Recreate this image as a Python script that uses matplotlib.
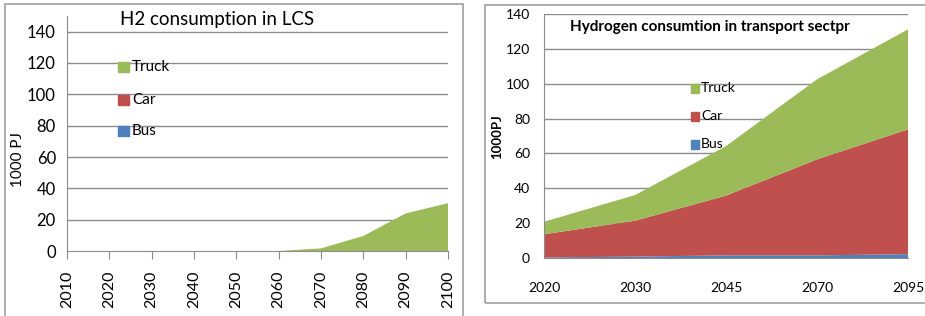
import matplotlib
matplotlib.use("Agg")
import matplotlib.pyplot as plt
from matplotlib.patches import Rectangle

plt.rcParams['font.family'] = ['Lato', 'DejaVu Sans']

# Left chart data
years_lcs = [2010, 2020, 2030, 2040, 2050, 2060, 2070, 2080, 2090, 2100]
bus_lcs = [0, 0, 0, 0, 0, 0, 0, 0, 0, 0]
car_lcs = [0, 0, 0, 0, 0, 0, 0, 0, 0, 0]
truck_lcs = [0, 0, 0, 0, 0, 0, 1.7, 9.6, 24, 30.5]

# Right chart data
years_tr = ["2020", "2030", "2045", "2070", "2095"]
bus_tr = [0.3, 0.8, 1.5, 1.5, 2.2]
car_tr = [13.3, 20.6, 34.3, 55.1, 71.6]
truck_tr = [7.2, 14.7, 28.4, 45.9, 57.4]

GREEN = "#9BBB59"
RED = "#C0504D"
BLUE = "#4F81BD"
GRID = "#8C8C8C"

W, H = 925, 316
fig = plt.figure(figsize=(W / 100, H / 100), dpi=100)

def fx(x):
    return x / W

def fy(y):
    return 1 - y / H

# Frames
fig.patches.append(Rectangle((fx(5), fy(318)), fx(458), (318 - 4) / H,
                             transform=fig.transFigure, fill=False,
                             edgecolor="#A0A0A0", lw=1.2))
fig.patches.append(Rectangle((fx(485), fy(303)), fx(445), (303 - 5) / H,
                             transform=fig.transFigure, fill=False,
                             edgecolor="#A0A0A0", lw=1.2))

# ---------- Left chart ----------
ax1 = fig.add_axes([fx(67), fy(251), fx(448 - 67), (251 - 16) / H])
xs = list(range(len(years_lcs)))
ax1.stackplot(xs, bus_lcs, car_lcs, truck_lcs, colors=[BLUE, RED, GREEN], lw=0)
ax1.set_xlim(0, len(xs) - 1)
ax1.set_ylim(0, 150)
ax1.set_yticks(range(0, 141, 20))
ax1.set_xticks(xs)
ax1.set_xticklabels([str(y) for y in years_lcs], rotation=90, fontsize=11.5)
ax1.tick_params(axis='y', length=0, labelsize=12, pad=8)
ax1.tick_params(axis='x', length=6, color=GRID, direction='out', pad=8)
for v in range(20, 141, 20):
    ax1.axhline(v, color=GRID, lw=1, zorder=0.5)
for s in ['top', 'right']:
    ax1.spines[s].set_visible(False)
for s in ['left', 'bottom']:
    ax1.spines[s].set_color(GRID)
fig.text(fx(18), fy(160), "1000 PJ", fontsize=11, rotation=90, ha='center', va='center')
fig.text(fx(217), fy(20), "H2 consumption in LCS", fontsize=13.5, ha='center', va='center')
leg_items = [("Truck", GREEN, 67), ("Car", RED, 100), ("Bus", BLUE, 131)]
for name, c, y in leg_items:
    fig.patches.append(Rectangle((fx(118), fy(y + 5)), fx(11), 10 / H,
                                 transform=fig.transFigure, color=c))
    fig.text(fx(132), fy(y), name, fontsize=11, va='center', ha='left')

# ---------- Right chart ----------
ax2 = fig.add_axes([fx(544), fy(258), fx(908 - 544), (258 - 14) / H])
xs2 = list(range(len(years_tr)))
ax2.stackplot(xs2, bus_tr, car_tr, truck_tr, colors=[BLUE, RED, GREEN], lw=0)
ax2.set_xlim(0, len(xs2) - 1)
ax2.set_ylim(0, 140)
ax2.set_yticks(range(0, 141, 20))
ax2.set_xticks(xs2)
ax2.set_xticklabels(years_tr, fontsize=10)
ax2.tick_params(axis='y', length=0, labelsize=10, pad=10)
ax2.tick_params(axis='x', length=0, pad=17)
for v in range(20, 141, 20):
    ax2.axhline(v, color=GRID, lw=1, zorder=0.5)
for s in ['top', 'right']:
    ax2.spines[s].set_visible(False)
for s in ['left', 'bottom']:
    ax2.spines[s].set_color(GRID)
fig.text(fx(497), fy(137), "1000PJ", fontsize=9.5, fontweight='bold', rotation=90,
         ha='center', va='center')
fig.text(fx(710), fy(27), "Hydrogen consumtion in transport sectpr",
         fontsize=11, fontweight='bold', ha='center', va='center')
leg_items2 = [("Truck", GREEN, 88), ("Car", RED, 116), ("Bus", BLUE, 144)]
for name, c, y in leg_items2:
    fig.patches.append(Rectangle((fx(691), fy(y + 5)), fx(8), 9 / H,
                                 transform=fig.transFigure, color=c))
    fig.text(fx(701), fy(y), name, fontsize=10, va='center', ha='left')

fig.savefig("out.png", dpi=100)
